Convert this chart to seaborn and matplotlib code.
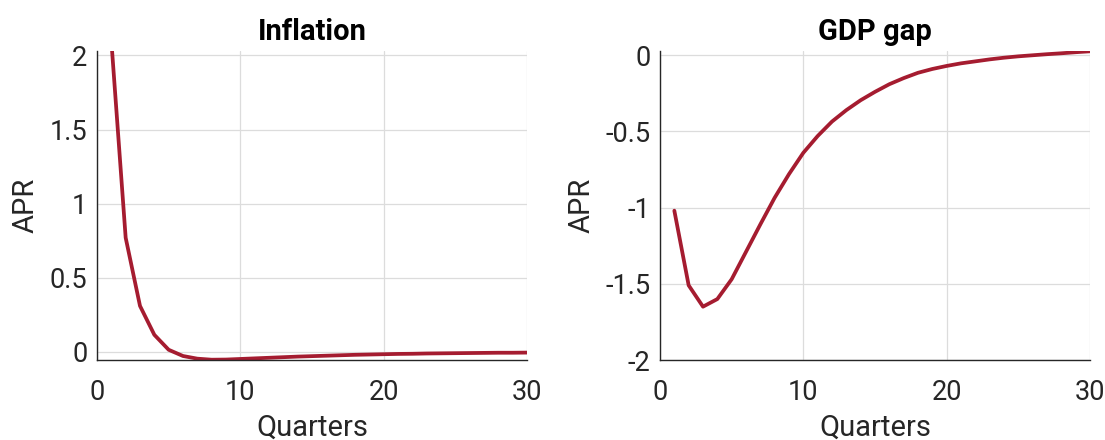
import pandas as pd
import matplotlib
matplotlib.use('Agg')
import matplotlib.pyplot as plt
import seaborn as sns

quarters = list(range(1, 31))

inflation = [2.10, 0.77, 0.31, 0.115, 0.014, -0.028, -0.046, -0.053, -0.052, -0.048,
             -0.044, -0.040, -0.036, -0.032, -0.029, -0.026, -0.023, -0.020, -0.018, -0.016,
             -0.014, -0.013, -0.011, -0.010, -0.009, -0.008, -0.007, -0.006, -0.006, -0.005]

gdp_gap = [-1.02, -1.51, -1.65, -1.60, -1.47, -1.29, -1.11, -0.935, -0.78, -0.64,
           -0.53, -0.435, -0.36, -0.295, -0.24, -0.19, -0.15, -0.115, -0.09, -0.07,
           -0.053, -0.04, -0.027, -0.016, -0.007, 0.0, 0.007, 0.013, 0.02, 0.026]

data = pd.DataFrame({'Quarters': quarters, 'Inflation': inflation, 'GDP gap': gdp_gap})

sns.set_style('whitegrid')
plt.rcParams['font.family'] = ['Roboto', 'DejaVu Sans']

line_color = '#A51C30'
text_color = '#262626'

fig = plt.figure(figsize=(11.05, 4.4), dpi=100)
ax1 = fig.add_axes([97 / 1105, 1 - 360 / 440, 430 / 1105, 309 / 440])
ax2 = fig.add_axes([660 / 1105, 1 - 360 / 440, 430 / 1105, 309 / 440])

# limites y ticks de cada panel
paneles = [
    (ax1, 'Inflation', (-0.055, 2.03), [0, 0.5, 1, 1.5, 2], ['0', '0.5', '1', '1.5', '2']),
    (ax2, 'GDP gap', (-2, 0.028), [-2, -1.5, -1, -0.5, 0], ['-2', '-1.5', '-1', '-0.5', '0']),
]

for ax, col, ylim, yticks, ylabels in paneles:
    sns.lineplot(data=data, x='Quarters', y=col, ax=ax, color=line_color, linewidth=2.7)
    ax.set_xlim(0, 30)
    ax.set_ylim(*ylim)
    ax.set_xticks([0, 10, 20, 30])
    ax.set_xticklabels(['0', '10', '20', '30'])
    ax.set_yticks(yticks)
    ax.set_yticklabels(ylabels)
    ax.set_title(col, fontsize=21, fontweight='bold', color='black', pad=8)
    ax.set_xlabel('Quarters', fontsize=21, color=text_color, labelpad=5)
    ax.set_ylabel('APR', fontsize=21, color=text_color, labelpad=7)
    ax.tick_params(axis='both', direction='in', length=4, width=1, labelsize=19.5,
                   colors=text_color)
    ax.tick_params(axis='x', pad=14)
    ax.tick_params(axis='y', pad=7)
    ax.grid(True, color='#dcdcdc', linewidth=0.9)
    for s in ['top', 'right']:
        ax.spines[s].set_visible(False)
    for s in ['left', 'bottom']:
        ax.spines[s].set_color(text_color)
        ax.spines[s].set_linewidth(1.0)

plt.savefig('out.png', dpi=100)
